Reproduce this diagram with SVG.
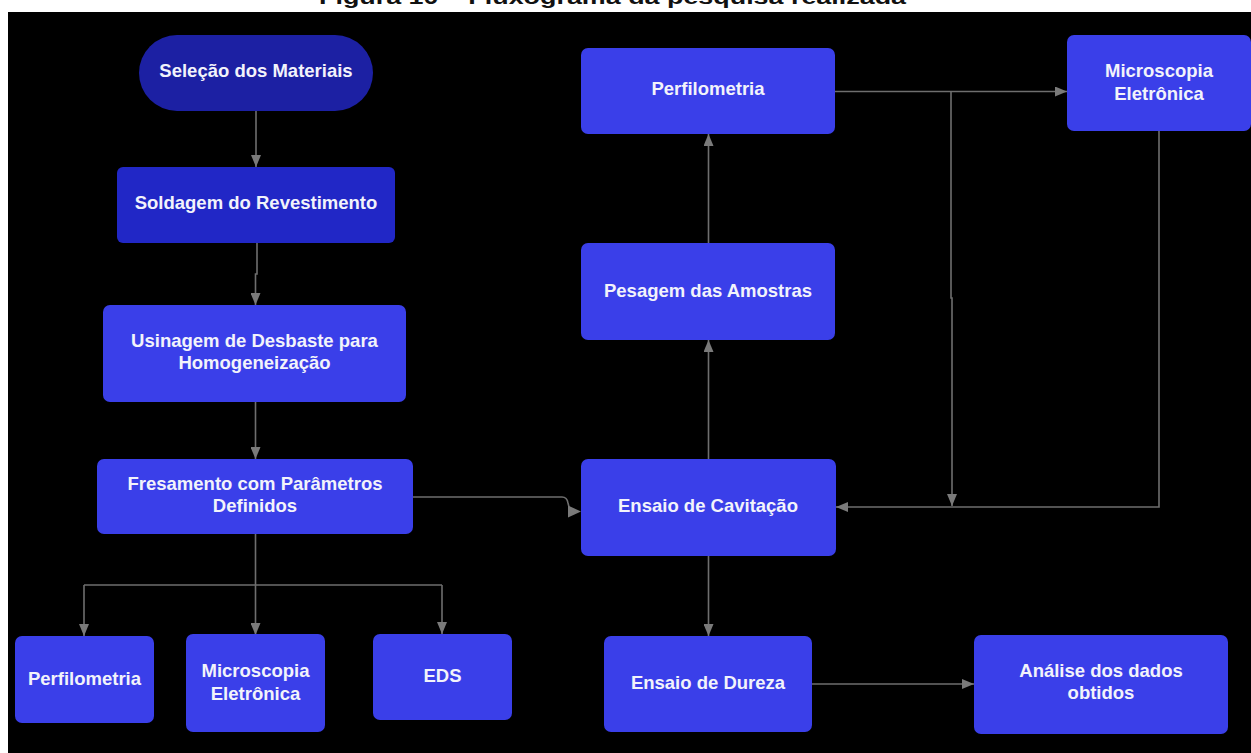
<svg xmlns="http://www.w3.org/2000/svg" width="1251" height="753" viewBox="0 0 1251 753">
<defs>
<style>
.node{fill:#3a3fe9;}
.lbl{font-family:"Liberation Sans",Arial,sans-serif;font-weight:bold;font-size:18.5px;fill:#f2f3fb;text-anchor:middle;}
.title{font-family:"Liberation Sans",Arial,sans-serif;font-weight:bold;font-size:20px;fill:#111;}
.con{fill:none;stroke:#6e6e6e;stroke-width:1.6;}
</style>
<marker id="ah" markerUnits="userSpaceOnUse" markerWidth="12" markerHeight="10" refX="12" refY="5" orient="auto">
<path d="M0,0 L12,5 L0,10 z" fill="#7a7a7a"/>
</marker>
</defs>
<rect x="0" y="0" width="1251" height="753" fill="#ffffff"/>
<text class="title" x="319" y="4" textLength="587" lengthAdjust="spacingAndGlyphs">Figura 10  – Fluxograma da pesquisa realizada</text>
<rect x="8" y="12" width="1243" height="741" fill="#000000"/>

<g id="connectors">
<path class="con" d="M256,111 V167" marker-end="url(#ah)"/>
<path class="con" d="M257,243 V274 H255.5 V305" marker-end="url(#ah)"/>
<path class="con" d="M255.5,402 V459" marker-end="url(#ah)"/>
<path class="con" d="M255.5,534 V635" marker-end="url(#ah)"/>
<path class="con" d="M84,585 V636" marker-end="url(#ah)"/>
<path class="con" d="M442,585 V634" marker-end="url(#ah)"/>
<path class="con" d="M84,585 H442"/>
<path class="con" d="M413,497 H562 Q567,497 568,503 L569,507"/>
<path d="M568,505.5 L581,511.5 L568,517.5 z" fill="#7a7a7a"/>
<path class="con" d="M708.5,459 V340" marker-end="url(#ah)"/>
<path class="con" d="M708.5,243 V134" marker-end="url(#ah)"/>
<path class="con" d="M835,91.5 H1067" marker-end="url(#ah)"/>
<path class="con" d="M951,91.5 V298 H952 V506" marker-end="url(#ah)"/>
<path class="con" d="M1159,131 V507 H836" marker-end="url(#ah)"/>
<path class="con" d="M708.5,556 V636" marker-end="url(#ah)"/>
<path class="con" d="M812,684 H974" marker-end="url(#ah)"/>
</g>

<g id="selecao">
<rect x="139" y="35" width="234" height="76" rx="38" ry="38" fill="#1c20a3"/>
<text class="lbl" x="256" y="77">Seleção dos Materiais</text>
</g>
<g id="soldagem">
<rect x="117" y="167" width="278" height="76" rx="6" fill="#2127c6"/>
<text class="lbl" x="256" y="209">Soldagem do Revestimento</text>
</g>
<g id="usinagem">
<rect x="103" y="305" width="303" height="97" rx="7" class="node"/>
<text class="lbl" x="254.5" y="347">Usinagem de Desbaste para</text>
<text class="lbl" x="254.5" y="369">Homogeneização</text>
</g>
<g id="fresamento">
<rect x="97" y="459" width="316" height="75" rx="7" class="node"/>
<text class="lbl" x="255" y="490">Fresamento com Parâmetros</text>
<text class="lbl" x="255" y="512">Definidos</text>
</g>
<g id="perfilometria-1">
<rect x="15" y="636" width="139" height="87" rx="7" class="node"/>
<text class="lbl" x="84.5" y="685">Perfilometria</text>
</g>
<g id="microscopia-1">
<rect x="186" y="634" width="139" height="98" rx="7" class="node"/>
<text class="lbl" x="255.5" y="677">Microscopia</text>
<text class="lbl" x="255.5" y="700">Eletrônica</text>
</g>
<g id="eds">
<rect x="373" y="634" width="139" height="86" rx="7" class="node"/>
<text class="lbl" x="442.5" y="682">EDS</text>
</g>
<g id="perfilometria-2">
<rect x="581" y="48" width="254" height="86" rx="7" class="node"/>
<text class="lbl" x="708" y="95">Perfilometria</text>
</g>
<g id="microscopia-2">
<rect x="1067" y="35" width="184" height="96" rx="7" class="node"/>
<text class="lbl" x="1159" y="77">Microscopia</text>
<text class="lbl" x="1159" y="100">Eletrônica</text>
</g>
<g id="pesagem">
<rect x="581" y="243" width="254" height="97" rx="7" class="node"/>
<text class="lbl" x="708" y="297">Pesagem das Amostras</text>
</g>
<g id="cavitacao">
<rect x="581" y="459" width="255" height="97" rx="7" class="node"/>
<text class="lbl" x="708" y="512">Ensaio de Cavitação</text>
</g>
<g id="dureza">
<rect x="604" y="636" width="208" height="96" rx="7" class="node"/>
<text class="lbl" x="708" y="689">Ensaio de Dureza</text>
</g>
<g id="analise">
<rect x="974" y="635" width="254" height="99" rx="7" class="node"/>
<text class="lbl" x="1101" y="677">Análise dos dados</text>
<text class="lbl" x="1101" y="699">obtidos</text>
</g>
</svg>
